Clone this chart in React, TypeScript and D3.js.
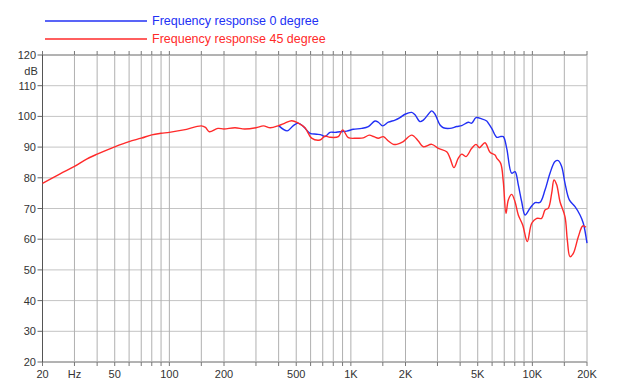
import React from 'react'
import * as d3 from 'd3'

// shared part of both curves (below ~400 Hz they overlap)
const lowFreq = [20, 25, 30, 35, 40, 50, 60, 70, 80, 90, 100, 120, 150, 158, 166, 185, 200, 230, 260, 300, 330, 360, 400]
const lowDb = [78.2, 81.3, 83.7, 86.1, 87.7, 90.1, 91.8, 92.9, 94.0, 94.5, 94.8, 95.6, 96.9, 96.4, 95.0, 96.1, 95.9, 96.3, 95.9, 96.3, 96.9, 96.3, 97.0]

const blueFreq = [446, 482, 513, 547, 596, 648, 691, 720, 767, 818, 871, 949, 1031, 1148, 1248, 1358, 1417, 1497, 1608, 1751, 1865, 1988, 2164, 2256, 2404, 2507, 2672, 2790, 2908, 3100, 3232, 3518, 3830, 4080, 4436, 4632, 4892, 5258, 5604, 5718, 5970, 6362, 6634, 6916, 7222, 7694, 8024, 8366, 8734, 9108, 9706, 10340, 11016, 11740, 12508, 13326, 13900, 14512, 15132, 15982, 17180, 18306, 19086, 20000]
const blueDb = [95.3, 97.0, 97.8, 96.7, 94.5, 94.2, 93.9, 93.4, 94.8, 94.8, 95.0, 95.2, 95.8, 96.1, 96.7, 98.5, 98.1, 96.9, 98.1, 98.8, 99.6, 100.7, 101.3, 100.5, 98.3, 98.8, 100.7, 101.8, 100.7, 97.2, 96.3, 96.1, 96.7, 97.0, 98.1, 97.8, 99.6, 99.2, 98.5, 97.8, 96.1, 93.2, 93.4, 93.4, 89.6, 81.5, 82.0, 77.7, 72.2, 67.9, 70.1, 71.9, 72.0, 76.0, 81.5, 85.3, 85.6, 83.6, 78.2, 72.8, 70.6, 67.9, 65.2, 58.7]

const redFreq = [433, 472, 513, 559, 608, 676, 720, 767, 853, 902, 968, 1077, 1171, 1262, 1340, 1417, 1510, 1608, 1714, 1789, 1945, 2164, 2353, 2507, 2790, 3032, 3374, 3518, 3700, 3908, 4080, 4308, 4632, 4892, 5102, 5484, 5844, 6226, 6362, 6692, 6916, 7158, 7370, 7694, 8024, 8366, 8846, 9380, 9916, 10566, 11256, 11740, 12242, 12780, 13158, 13616, 14202, 15132, 15582, 16124, 16814, 17916, 18944, 19748]
const redDb = [97.8, 98.6, 97.8, 96.3, 92.9, 92.3, 93.6, 93.2, 93.4, 95.6, 93.1, 92.9, 93.0, 93.9, 93.4, 92.9, 93.4, 92.0, 90.9, 90.9, 91.8, 93.9, 92.0, 90.1, 90.9, 89.6, 88.5, 86.4, 83.3, 86.4, 87.7, 86.9, 89.6, 90.9, 89.8, 91.4, 88.3, 87.4, 86.4, 84.7, 78.7, 68.4, 72.8, 74.6, 72.2, 67.9, 64.6, 59.2, 65.2, 66.8, 66.8, 69.5, 70.1, 75.0, 79.3, 77.7, 72.2, 67.3, 59.7, 54.3, 55.4, 60.8, 64.3, 63.9]

const gridFreqs = [20, 30, 40, 50, 60, 70, 80, 90, 100, 150, 200, 300, 400, 500, 600, 700, 800, 900, 1000, 1500, 2000, 3000, 4000, 5000, 6000, 7000, 8000, 9000, 10000, 15000, 20000]
const xTickValues = [20, 30, 50, 100, 200, 500, 1000, 2000, 5000, 10000, 20000]
const xTickLabels = ['20', 'Hz', '50', '100', '200', '500', '1K', '2K', '5K', '10K', '20K']
const yTicks = [20, 30, 40, 50, 60, 70, 80, 90, 100, 110, 120]

const legendLabels = ['Frequency response 0 degree', 'Frequency response 45 degree']
const BLUE = '#2230f5'
const RED = '#ff2a2a'

const W = 624
const H = 390
const left = 42.5
const right = 587
const top = 55
const bottom = 362

export default function App() {
  const x = d3.scaleLog().domain([20, 20000]).range([left, right])
  const y = d3.scaleLinear().domain([20, 120]).range([bottom, top])

  // blue only shows where it leaves the red one
  const last = lowFreq.length - 1
  const blue = [[lowFreq[last], lowDb[last]]].concat(blueFreq.map((f, i) => [f, blueDb[i]]))
  const red = lowFreq.map((f, i) => [f, lowDb[i]]).concat(redFreq.map((f, i) => [f, redDb[i]]))

  const line = d3.line<number[]>()
    .x(d => x(d[0]))
    .y(d => y(d[1]))
    .curve(d3.curveCatmullRom.alpha(0.5))

  const font = '"Liberation Sans", Arial, Helvetica, sans-serif'

  return (
    <svg width={W} height={H} style={{position: 'absolute', left: 0, top: 0}} fontFamily={font}>
      <rect width={W} height={H} fill="#fff" />

      {/* legend */}
      {legendLabels.map((t, i) => (
        <g key={t}>
          <line x1={45} x2={147} y1={21 + i * 18} y2={21 + i * 18} stroke={i ? RED : BLUE} strokeWidth={1.6} />
          <text x={152} y={25 + i * 18} fontSize={12.5} fill={i ? RED : BLUE}>{t}</text>
        </g>
      ))}

      {/* horizontal grid */}
      {yTicks.map(v => (
        <g key={'h' + v}>
          <line x1={left} x2={right} y1={y(v)} y2={y(v)} stroke={v === 120 || v === 20 ? '#666' : '#c4c4c4'} strokeWidth={1} />
          <line x1={left - 5} x2={left} y1={y(v)} y2={y(v)} stroke="#666" />
          <text x={36} y={y(v) + 4} fontSize={11} textAnchor="end" fill="#333">{v}</text>
        </g>
      ))}
      <text x={31} y={75} fontSize={11} textAnchor="middle" fill="#333">dB</text>

      {/* vertical grid */}
      {gridFreqs.map(f => (
        <g key={'v' + f}>
          <line x1={x(f)} x2={x(f)} y1={top} y2={bottom} stroke="#b0b0b0" strokeWidth={1} />
          <line x1={x(f)} x2={x(f)} y1={top - 4} y2={top} stroke="#777" />
          <line x1={x(f)} x2={x(f)} y1={bottom} y2={bottom + 4} stroke="#777" />
        </g>
      ))}
      <line x1={left} x2={left} y1={top} y2={bottom} stroke="#555" />

      {xTickValues.map((f, i) => (
        <text key={'xl' + f} x={x(f)} y={378} fontSize={11} textAnchor="middle" fill="#333">{xTickLabels[i]}</text>
      ))}

      {/* curves */}
      <path d={line(blue) || ''} fill="none" stroke={BLUE} strokeWidth={1.4} />
      <path d={line(red) || ''} fill="none" stroke={RED} strokeWidth={1.4} />
    </svg>
  )
}
